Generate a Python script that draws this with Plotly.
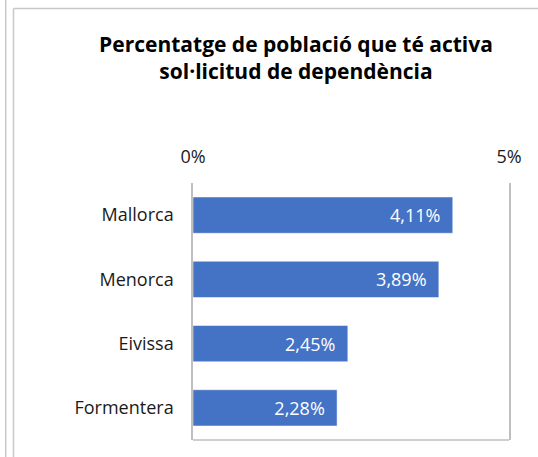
import plotly.graph_objects as go

categories = ["Mallorca", "Menorca", "Eivissa", "Formentera"]
values = [4.11, 3.89, 2.45, 2.28]
tick_values = [0, 5]
tick_labels = ["0%", "5%"]
title_text = "<b>Percentatge de població que té activa<br>sol·licitud de dependència</b>"

W, H = 538, 457
L, R, T, B = 193, 29, 183, 17
pw, ph = W - L - R, H - T - B

def px(p):
    return (p - L) / pw

def py(q):
    return (H - B - q) / ph

font = "Open Sans, Noto Sans, sans-serif"
grid = "#bfbfbf"
frame = "#c8c8c8"

fig = go.Figure(go.Bar(
    y=categories, x=values, orientation="h",
    marker=dict(color="#4472C4", line=dict(color="rgba(255,255,255,0.5)", width=1)),
    texttemplate="%{x:.2f}%\u00a0\u00a0",
    textposition="inside", insidetextanchor="end",
    textfont=dict(color="white", size=18, family=font),
    cliponaxis=False,
))

fig.update_layout(
    width=W, height=H,
    margin=dict(l=L, r=R, t=T, b=B),
    paper_bgcolor="white", plot_bgcolor="white",
    separators=",.",
    showlegend=False,
    bargap=0.435,
    font=dict(family=font, size=18, color="#1a1a1a"),
    title=dict(text=title_text, x=296 / W, xanchor="center", xref="container",
               y=1 - 51.5 / H, yanchor="middle", yref="container",
               font=dict(size=21, color="#000000", family=font)),
    xaxis=dict(side="top", range=[0, 5], tickvals=tick_values, ticktext=tick_labels,
               showgrid=True, gridcolor=grid, gridwidth=1.5, zeroline=False,
               showline=False,
               ticks="", ticklabelstandoff=15, tickfont=dict(size=18, color="#1a1a1a")),
    yaxis=dict(autorange="reversed", showgrid=False, showline=True, mirror=True,
               linecolor=grid, linewidth=1.5, ticks="",
               ticklabelstandoff=14, tickfont=dict(size=18, color="#1a1a1a")),
    shapes=[
        dict(type="line", xref="paper", yref="paper", x0=0, x1=1, y0=0, y1=0,
             line=dict(color=grid, width=1.5)),
        dict(type="line", xref="paper", yref="paper", x0=px(13.5), x1=px(13.5),
             y0=py(8.5), y1=py(460), line=dict(color=frame, width=1.5)),
        dict(type="line", xref="paper", yref="paper", x0=px(13.5), x1=px(545),
             y0=py(8.5), y1=py(8.5), line=dict(color=frame, width=1.5)),
        dict(type="line", xref="paper", yref="paper", x0=px(5.7), x1=px(5.7),
             y0=py(-5), y1=py(460), line=dict(color=frame, width=1.5)),
    ],
)

fig.write_html("out.html", config={"displayModeBar": False},
               post_script="document.body.style.margin='0';")
